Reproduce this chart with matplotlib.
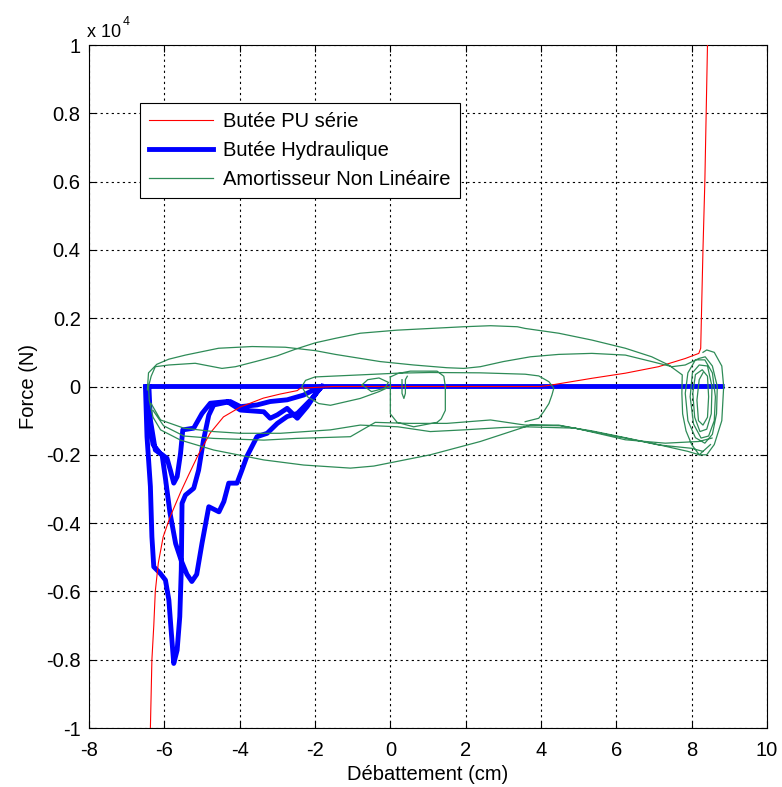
import numpy as np
import matplotlib.pyplot as plt

plt.rcParams['font.family'] = ['Liberation Sans', 'DejaVu Sans']
plt.rcParams['axes.unicode_minus'] = False

# Butée PU série (force in 1e4 N)
pu_x = [-6.37, -6.33, -6.28, -6.24, -6.16, -6.03, -5.84, -5.57, -5.36, -5.10, -4.78,
        -4.43, -3.98, -3.37, -2.92, -2.47, -2.39, -1.5, 0.0, 2.0, 3.98, 4.2, 5.35,
        6.24, 7.12, 7.83, 8.19, 8.24, 8.26, 8.30, 8.35, 8.42]
pu_y = [-1.0, -0.8, -0.7, -0.6, -0.517, -0.44, -0.38, -0.31, -0.26, -0.2, -0.136,
        -0.089, -0.06, -0.034, -0.022, -0.012, -0.005, 0.0, 0.0, 0.0, 0.0, 0.003, 0.024,
        0.039, 0.058, 0.082, 0.097, 0.112, 0.21, 0.4, 0.6, 1.0]

# Butée Hydraulique
hyd_segments = [
    ([8.81, -6.50], [0.0, 0.0]),
    ([-6.50, -6.46, -6.37, -6.33, -6.28, -6.11, -5.97, -5.88, -5.82, -5.75, -5.66,
      -5.59, -5.55, -5.53, -5.44, -5.22, -5.09, -4.96, -4.82, -4.69, -4.25, -3.98,
      -3.54, -3.19, -2.74, -2.30, -1.95, -1.82],
     [-0.005, -0.147, -0.293, -0.44, -0.528, -0.547, -0.567, -0.625, -0.713, -0.811,
      -0.772, -0.674, -0.537, -0.342, -0.318, -0.298, -0.245, -0.157, -0.084, -0.054,
      -0.044, -0.059, -0.054, -0.044, -0.039, -0.025, -0.005, 0.0]),
    ([-6.41, -6.37, -6.24, -6.06, -5.97, -5.85, -5.70, -5.55, -5.40, -5.27, -5.14,
      -5.00, -4.82, -4.55, -4.42, -4.29, -4.07, -3.94, -3.81, -3.54, -3.27, -3.00,
      -2.74, -2.47, -2.12, -1.86],
     [0.0, -0.098, -0.186, -0.20, -0.27, -0.37, -0.46, -0.51, -0.55, -0.571, -0.55,
      -0.459, -0.352, -0.367, -0.337, -0.283, -0.283, -0.245, -0.205, -0.147, -0.137,
      -0.108, -0.088, -0.079, -0.04, -0.005]),
    ([-6.43, -6.40, -6.30, -6.11, -5.93, -5.84, -5.75, -5.66, -5.57, -5.51, -5.22,
      -5.00, -4.78, -4.33, -3.98, -3.36, -3.19, -3.00, -2.74, -2.47, -2.21, -1.94, -1.82],
     [0.0, -0.10, -0.17, -0.196, -0.21, -0.245, -0.283, -0.264, -0.196, -0.127, -0.122,
      -0.079, -0.049, -0.044, -0.069, -0.074, -0.093, -0.083, -0.064, -0.093, -0.059,
      -0.015, 0.0]),
]

# Amortisseur Non Linéaire
anl_segments = [
    ([-6.42, -6.35, -6.24, -5.88, -5.18, -4.47, -4.11, -3.58, -3.0, -2.5, -1.99, -1.46,
      -0.8, 0.18, 1.06, 1.95, 2.66, 3.37, 3.58, 4.47, 5.35, 6.24, 6.94, 7.39, 7.75,
      7.74, 7.76, 7.85, 8.0, 8.2, 8.4, 8.6, 8.8, 8.85, 8.8, 8.6, 8.4, 8.3],
     [0.0, 0.03, 0.058, 0.063, 0.068, 0.053, 0.058, 0.073, 0.09, 0.11, 0.128, 0.141,
      0.156, 0.165, 0.17, 0.175, 0.178, 0.175, 0.17, 0.156, 0.136, 0.112, 0.087, 0.063,
      0.034, -0.02, -0.08, -0.13, -0.17, -0.2, -0.2, -0.17, -0.1, 0.0, 0.06, 0.1,
      0.107, 0.1]),
    ([-6.45, -6.42, -6.2, -5.88, -5.44, -4.56, -3.67, -2.79, -1.99, -1.46, -1.06,
      -0.27, 0.62, 1.5, 1.95, 2.39, 3.0, 3.72, 4.47, 5.35, 6.24, 6.94, 7.48, 7.83,
      8.19, 8.36, 8.55, 8.68, 8.66, 8.55, 8.35, 8.1, 7.9, 7.83, 7.9, 8.1, 8.35, 8.55,
      8.63, 8.6, 8.45, 8.25, 8.05, 7.96, 8.02, 8.2, 8.42, 8.54, 8.52, 8.4, 8.22, 8.08,
      8.03, 8.1, 8.28, 8.42, 8.45, 8.42, 8.3, 8.18, 8.14, 8.2, 8.3],
     [-0.01, 0.04, 0.065, 0.08, 0.092, 0.112, 0.117, 0.115, 0.105, 0.094, 0.087,
      0.073, 0.063, 0.055, 0.053, 0.058, 0.073, 0.087, 0.094, 0.097, 0.092, 0.073,
      0.058, 0.063, 0.082, 0.087, 0.06, 0.0, -0.08, -0.14, -0.166, -0.15, -0.1, -0.02,
      0.04, 0.078, 0.078, 0.04, -0.03, -0.1, -0.145, -0.151, -0.11, -0.03, 0.04, 0.063,
      0.06, 0.0, -0.08, -0.125, -0.132, -0.09, -0.02, 0.035, 0.049, 0.03, -0.03, -0.09,
      -0.113, -0.1, -0.04, 0.02, 0.04]),
    ([8.5, 8.2, 7.9, 7.1, 6.24, 5.35, 4.5, 3.72, 2.39, 1.06, -0.44, -1.06, -2.3, -3.36,
      -4.69, -5.57, -6.1, -6.3, -6.4, -6.42],
     [-0.17, -0.2, -0.19, -0.17, -0.15, -0.13, -0.115, -0.113, -0.161, -0.2, -0.233,
      -0.239, -0.23, -0.215, -0.186, -0.157, -0.127, -0.09, -0.04, 0.0]),
    ([-6.35, -6.1, -5.48, -4.69, -3.98, -2.92, -1.59, -0.8, 0.2, 1.06, 1.95, 3.0, 3.58,
      4.91, 6.24, 7.3, 8.19, 8.54],
     [-0.05, -0.098, -0.122, -0.132, -0.137, -0.137, -0.127, -0.113, -0.118, -0.132,
      -0.127, -0.12, -0.118, -0.122, -0.156, -0.166, -0.161, -0.151]),
    ([-6.3, -6.02, -5.48, -4.69, -3.36, -2.5, -1.06, -0.4, 0.5, 1.5, 2.66, 3.58, 4.47,
      5.35, 6.24, 7.12, 8.0, 8.3],
     [-0.07, -0.115, -0.145, -0.152, -0.157, -0.152, -0.147, -0.105, -0.108, -0.108,
      -0.098, -0.113, -0.113, -0.132, -0.151, -0.171, -0.181, -0.19]),
    ([0.0, -0.3, -0.8, -1.59, -1.9, -2.2, -2.35, -2.25, -2.0, -1.59, -0.8, 0.18, 1.06,
      2.39, 3.58, 3.94, 4.21, 4.34, 4.29, 4.21, 4.07, 3.94, 3.58],
     [0.0, -0.015, -0.035, -0.055, -0.05, -0.03, 0.0, 0.018, 0.028, 0.03, 0.034, 0.039,
      0.041, 0.04, 0.036, 0.031, 0.014, -0.005, -0.025, -0.05, -0.074, -0.093, -0.103]),
    ([-0.75, -0.6, -0.3, -0.05, -0.15, -0.5, -0.75],
     [0.005, 0.02, 0.025, 0.012, -0.005, -0.015, 0.005]),
    ([0.0, 0.2, 0.53, 1.24, 1.42, 1.46, 1.46, 1.35, 1.24, 0.62, 0.18, 0.0, 0.0],
     [0.028, 0.038, 0.045, 0.045, 0.03, 0.0, -0.07, -0.095, -0.105, -0.118, -0.105,
      -0.08, 0.028]),
    ([0.31, 0.31, 0.36, 0.40, 0.40, 0.45],
     [0.02, -0.02, -0.035, -0.02, 0.02, 0.03]),
]

x_ticks = [-8, -6, -4, -2, 0, 2, 4, 6, 8, 10]
y_ticks = [-1, -0.8, -0.6, -0.4, -0.2, 0, 0.2, 0.4, 0.6, 0.8, 1]
y_ticklabels = ['-1', '-0.8', '-0.6', '-0.4', '-0.2', '0', '0.2', '0.4', '0.6', '0.8', '1']


def join(segments):
    xs, ys = [], []
    for sx, sy in segments:
        xs += list(sx) + [np.nan]
        ys += list(sy) + [np.nan]
    return xs, ys


fs = 14.5
fig = plt.figure(figsize=(7.82, 7.87), dpi=100)
ax = fig.add_axes([89 / 782, 1 - 728 / 787, 678 / 782, 683 / 787])

hx, hy = join(hyd_segments)
gx, gy = join(anl_segments)
ax.plot(pu_x, pu_y, color='#ff0000', lw=0.8, label='Butée PU série', zorder=3)
ax.plot(hx, hy, color='#0000ff', lw=3.5, label='Butée Hydraulique', zorder=2)
ax.plot(gx, gy, color='#2e8b57', lw=0.9, label='Amortisseur Non Linéaire', zorder=4)

ax.set_xlim(-8, 10)
ax.set_ylim(-1, 1)
ax.set_xticks(x_ticks)
ax.set_yticks(y_ticks)
ax.set_yticklabels(y_ticklabels)
ax.tick_params(direction='in', length=5, labelsize=fs, top=True, right=True)
ax.tick_params(axis='x', pad=9)
ax.tick_params(axis='y', pad=6)
ax.grid(True, color='black', linestyle=(0, (2, 3)), lw=0.8)
for s in ax.spines.values():
    s.set_linewidth(0.8)

ax.set_xlabel('Débattement (cm)', fontsize=fs, labelpad=4)
ax.set_ylabel('Force (N)', fontsize=fs, labelpad=6)

fig.text(87 / 782, 1 - 37 / 787, 'x 10', fontsize=13, va='baseline')
fig.text(123 / 782, 1 - 25 / 787, '4', fontsize=9, va='baseline')

leg = ax.legend(loc='upper left', bbox_to_anchor=(0.075, 0.915), fontsize=fs,
                fancybox=False, edgecolor='black', framealpha=1, handlelength=3.2,
                borderpad=0.45, labelspacing=0.5, handletextpad=0.5, borderaxespad=0)
leg.get_frame().set_linewidth(0.8)

fig.savefig('out.png', dpi=100, facecolor='white')
